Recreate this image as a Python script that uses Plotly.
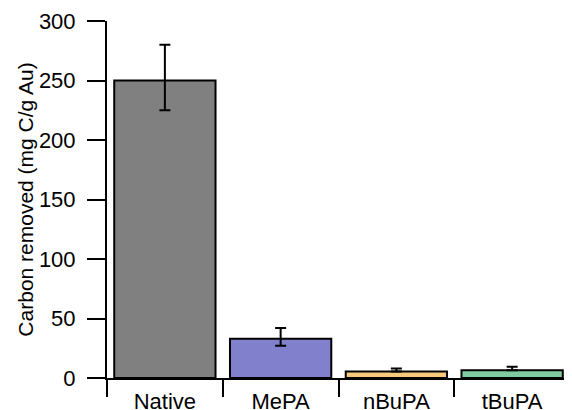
import plotly.graph_objects as go

categories = ["Native", "MePA", "nBuPA", "tBuPA"]
values = [250, 33, 5.5, 6.5]
err_plus = [30, 9, 2.5, 3]
err_minus = [25, 6, 0, 0]
colors = ["#808080", "#8080CC", "#F7C97C", "#80CCA0"]
y_ticks = [0, 50, 100, 150, 200, 250, 300]

fig = go.Figure(go.Bar(
    x=categories, y=values,
    marker=dict(color=colors, line=dict(color="black", width=2)),
    error_y=dict(type="data", symmetric=False, array=err_plus, arrayminus=err_minus,
                 color="black", thickness=2, width=5.5),
    width=0.875,
))

font = dict(family="Liberation Sans, Arial, sans-serif", size=22, color="black")
fig.update_layout(
    width=572, height=410,
    margin=dict(l=99, r=10, t=13, b=40),
    paper_bgcolor="white", plot_bgcolor="white",
    font=font, showlegend=False,
    xaxis=dict(showline=True, linecolor="black", linewidth=2, automargin=False,
               ticks="outside", tickson="boundaries", ticklen=17, tickwidth=2, tickcolor="black",
               showgrid=False, tickfont=font, ticklabelstandoff=3, range=[-0.5, 3.5]),
    yaxis=dict(showline=True, linecolor="black", linewidth=2, range=[0, 300], automargin=False,
               tickvals=y_ticks, ticks="outside", ticklen=18, tickwidth=2, tickcolor="black",
               showgrid=False, zeroline=False, tickfont=font, ticklabelstandoff=7,
               title=dict(text="Carbon removed (mg C/g Au)", font=dict(family=font["family"], size=21, color="black"), standoff=0)),
)
fig.write_html("out.html")
